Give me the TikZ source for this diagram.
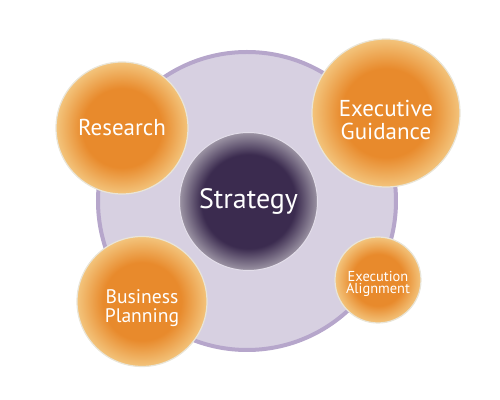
\documentclass[tikz,border=0pt]{standalone}
\usepackage{fontspec}
\setmainfont{PT Sans}
\definecolor{orc}{HTML}{E88A2C}
\definecolor{ore}{HTML}{F3C47C}
\definecolor{rim}{HTML}{E9E5D8}
\definecolor{stc}{HTML}{3B2B4F}
\definecolor{ste}{HTML}{9C94A4}
\definecolor{lavf}{HTML}{D7D0E1}
\definecolor{lavb}{HTML}{B6A6CB}
\pgfdeclareradialshading{orbshade}{\pgfpoint{0bp}{0bp}}{color(0bp)=(orc); color(15bp)=(orc); color(25bp)=(ore); color(50bp)=(ore)}
\pgfdeclareradialshading{stratshade}{\pgfpoint{0bp}{0bp}}{color(0bp)=(stc); color(17bp)=(stc); color(25bp)=(ste); color(50bp)=(ste)}
\tikzset{
  orb/.style={circle, shading=orbshade, draw=rim, line width=0.6pt, text=white, align=center, inner sep=0pt},
  strat/.style={circle, shading=stratshade, draw=lavf!70!white, line width=0.5pt, text=white, align=center, inner sep=0pt},
  hub/.style={circle, fill=lavf, draw=lavb, line width=2pt, inner sep=0pt}
}
\begin{document}
\begin{tikzpicture}[x=0.5pt,y=-0.5pt]
\useasboundingbox (0,0) rectangle (500,400);
\node[hub, minimum size=149pt] (hub) at (247,201) {};
\node[orb, minimum size=66pt, font=\fontsize{11.5}{12}\selectfont] (research) at (122,128) {Research};
\node[orb, minimum size=74pt, font=\fontsize{11.5}{11.5}\selectfont, text depth=0pt] (exec) at (386,113) {\raisebox{-1.5pt}{\begin{tabular}{@{}c@{}}Executive\\Guidance\end{tabular}}};
\node[strat, minimum size=69pt, font=\fontsize{14}{14}\selectfont] (strategy) at (248.5,201.5) {Strategy};
\node[orb, minimum size=65pt, font=\fontsize{9.8}{10}\selectfont, text depth=0pt] (business) at (142,301.5) {\raisebox{-0.5pt}{\begin{tabular}{@{}c@{}}Business\\[-0.5pt]Planning\end{tabular}}};
\node[orb, minimum size=43pt, font=\fontsize{7.2}{7}\selectfont, text depth=0pt] (align) at (378,280) {\raisebox{0pt}{\begin{tabular}{@{}c@{}}Execution\\[-1.5pt]Alignment\end{tabular}}};
\end{tikzpicture}
\end{document}
